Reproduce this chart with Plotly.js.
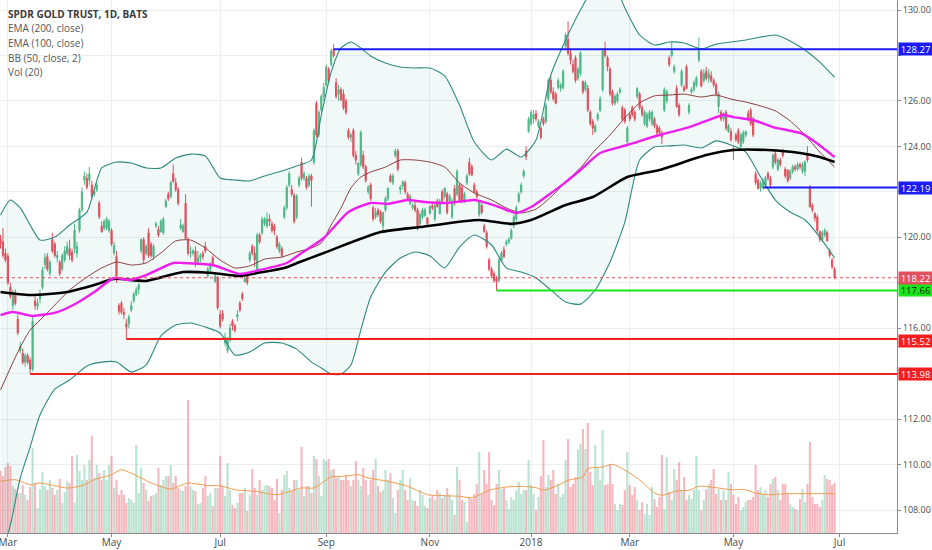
<!DOCTYPE html>
<html><head><meta charset="utf-8">
<script src="https://cdn.plot.ly/plotly-3.0.1.min.js"></script>
<style>html,body{margin:0;padding:0;background:#fff}#chart{width:932px;height:550px}</style>
</head><body><div id="chart"></div>
<script>
// ---------- DATA ----------
const firstDay = '2017-02-24';
const holidays = ['2017-04-14','2017-05-29','2017-07-04','2017-09-04','2017-11-23','2017-12-25','2018-01-01','2018-01-15','2018-02-19','2018-03-30','2018-05-28','2018-07-04'];

const openP = [
119.9,119.8,119.3,119.15,117.8,117.0,117.5,116.4,115.0,114.9,
114.5,114.8,114.6,114.2,117.2,116.95,117.3,117.8,118.8,119.15,
118.4,119.9,119.7,119.1,118.9,118.6,119.0,119.3,119.5,119.35,
119.5,119.3,120.3,121.2,122.5,122.6,122.5,122.3,121.9,122.1,
121.5,120.5,120.4,120.4,120.3,120.3,119.3,119.15,117.0,117.1,
116.7,116.2,116.2,116.8,117.2,117.5,117.7,119.4,119.9,119.3,
120.2,119.7,119.15,120.5,120.35,120.25,120.2,121.35,121.9,121.8,
122.8,122.4,122.1,120.4,120.25,121.5,119.9,119.3,119.3,119.4,
118.9,119.1,119.3,119.6,118.3,118.6,119.1,118.05,118.2,116.6,
116.65,115.35,115.0,115.5,116.3,116.1,116.5,117.1,117.5,118.05,
118.3,119.0,119.6,119.3,118.6,120.1,120.2,120.6,120.5,120.8,
120.6,120.5,120.0,119.4,119.5,120.9,121.3,122.3,122.1,121.85,
120.9,122.3,123.3,122.6,122.6,122.3,122.7,123.3,125.9,124.5,
125.6,126.2,126.7,127.4,127.6,128.27,126.8,126.3,126.5,126.3,
126.0,124.7,124.4,124.7,123.6,122.8,123.2,123.6,123.1,122.0,
122.3,121.3,120.9,121.2,121.1,120.5,121.2,121.7,122.7,122.4,
123.6,123.8,122.1,122.25,122.4,121.9,121.5,121.3,121.4,121.2,
120.6,120.9,120.95,120.85,121.05,121.4,120.8,121.6,121.05,122.0,
121.8,121.9,121.6,120.9,122.15,121.9,122.3,122.2,121.6,122.4,
123.3,123.1,122.3,122.0,121.0,121.4,120.5,120.2,119.0,118.6,
118.4,118.2,118.1,119.0,119.45,119.7,119.8,119.95,120.5,120.8,
121.6,122.0,122.7,123.8,124.65,125.0,125.2,125.45,124.9,124.8,
125.2,125.1,126.1,126.9,126.4,126.3,126.6,126.55,126.6,128.4,
128.7,128.1,127.6,127.9,127.0,127.2,126.85,126.5,126.55,125.5,
125.1,124.65,125.2,125.6,126.5,128.3,127.9,127.4,126.4,125.9,
126.0,126.4,125.7,125.6,124.2,125.4,125.7,125.5,126.2,126.3,
125.7,125.0,124.9,125.2,125.0,125.2,124.9,124.8,124.6,125.6,
126.0,127.9,128.0,127.3,126.55,125.8,126.7,126.6,127.5,125.5,
126.4,126.5,126.7,127.8,127.3,126.9,127.3,127.0,127.1,126.9,
126.7,125.75,125.5,125.2,125.5,124.65,124.65,123.9,124.5,124.7,
124.0,124.2,124.5,125.45,125.6,125.2,122.8,122.5,122.15,122.2,
122.3,122.8,122.6,123.1,123.7,123.0,123.4,123.8,123.0,122.95,
122.6,122.9,123.1,123.0,123.2,122.9,122.9,123.7,122.2,121.4,
121.05,120.9,120.25,119.9,120.1,120.2,119.4,119.0,118.6];

const highP = [
120.1,120.4,119.5,119.3,118.0,117.7,117.7,116.6,115.4,115.1,
114.9,114.9,114.7,116.5,117.4,117.3,117.7,118.7,119.3,119.3,
119.0,120.2,119.8,119.4,119.0,119.3,119.6,119.8,119.9,119.5,
120.6,119.8,121.3,122.2,122.9,122.8,123.1,122.5,122.2,122.4,
121.6,120.7,120.8,120.9,120.8,120.4,119.8,119.4,117.1,117.2,
116.9,116.4,116.6,117.2,117.6,117.8,118.0,119.95,120.0,119.7,
120.4,119.8,119.7,120.7,120.5,120.8,120.9,121.7,122.0,122.5,
123.2,122.6,122.2,120.8,120.6,121.9,120.0,119.6,119.5,119.6,
119.4,119.3,119.4,119.8,118.7,118.9,119.2,118.4,118.3,116.8,
116.8,115.8,115.6,116.2,116.4,116.2,116.8,117.2,117.6,118.3,
118.4,119.4,119.7,119.6,120.2,120.2,120.9,120.9,121.1,121.0,
120.7,120.6,120.1,119.8,119.6,121.4,122.3,122.9,122.3,121.95,
121.9,122.7,123.5,122.9,122.7,122.8,122.8,124.8,126.0,125.6,
126.3,126.8,127.6,127.5,128.3,128.5,127.0,126.7,126.6,126.5,
126.1,124.8,124.6,124.8,123.8,123.3,124.7,123.8,123.2,122.3,
122.4,121.4,121.3,121.3,121.2,121.1,121.8,122.2,122.8,122.8,
123.9,123.9,122.3,122.5,122.5,122.0,121.9,121.5,121.6,121.3,
121.1,121.3,121.3,120.9,121.4,121.5,121.5,121.7,121.7,122.1,
122.2,122.0,121.9,121.7,122.3,123.0,122.4,122.3,122.0,122.8,
123.5,123.2,122.4,122.1,121.6,121.5,120.6,120.3,119.1,118.7,
118.5,118.3,119.1,119.4,119.6,119.9,120.0,120.4,121.0,121.4,
122.0,122.4,123.0,124.0,125.3,125.6,125.6,125.6,125.2,124.9,
125.3,125.9,127.0,127.1,126.6,126.4,127.0,126.8,127.4,129.0,
129.5,128.3,127.8,128.0,127.5,128.2,126.9,126.9,126.7,125.6,
125.2,125.0,125.5,126.2,128.3,128.6,128.0,127.5,126.5,126.3,
126.4,126.6,125.8,125.7,124.9,125.5,125.8,125.6,126.6,126.4,
125.8,125.6,125.5,125.6,125.6,125.3,125.0,124.9,124.7,126.6,
126.5,128.0,128.6,127.6,126.7,125.9,127.4,126.7,127.6,125.9,
126.6,126.9,127.1,128.8,127.4,127.4,127.5,127.4,127.3,127.0,
126.8,126.4,125.6,125.5,125.6,125.0,124.8,124.0,124.6,124.8,
124.6,124.7,124.7,125.6,125.7,125.3,122.9,122.6,122.5,122.6,
122.7,122.9,122.7,123.7,123.8,123.5,123.5,123.9,123.1,123.0,
123.0,123.2,123.2,123.3,123.3,123.3,123.4,124.0,122.3,121.5,
121.1,121.0,120.3,120.3,120.4,120.3,119.5,119.1,118.7];

const lowP = [
119.5,119.1,118.9,117.9,117.3,116.8,117.0,115.7,114.9,114.4,
114.3,114.4,113.98,114.1,116.8,116.8,117.1,117.7,118.6,118.5,
118.3,119.3,119.1,118.9,118.3,118.5,118.9,119.2,119.0,118.9,
119.3,119.1,120.2,121.1,122.3,122.1,122.3,121.7,121.8,122.0,
120.8,120.2,120.3,120.3,120.2,119.6,119.2,118.0,116.6,116.6,
116.4,115.52,116.0,116.7,117.1,117.4,117.5,119.3,118.85,119.2,
119.1,119.1,119.0,120.4,120.0,120.2,120.1,121.3,121.6,121.7,
122.4,122.0,121.4,120.3,120.2,119.9,119.2,119.1,119.2,118.7,
118.8,118.9,119.0,119.3,118.2,118.4,118.7,118.0,116.8,116.0,
116.3,115.2,114.9,115.4,115.9,115.8,116.3,116.7,117.2,118.0,
117.9,118.9,119.2,118.7,118.5,119.7,120.1,120.5,120.4,120.5,
120.2,120.1,119.5,119.3,119.1,120.8,121.2,122.2,121.8,120.6,
120.8,122.2,122.5,122.5,122.1,122.2,121.35,123.2,124.4,124.4,
125.5,126.0,126.6,126.8,127.5,127.9,126.1,126.0,126.0,125.6,
125.4,124.3,124.2,123.5,123.2,122.7,123.1,123.0,122.4,121.9,
121.6,120.7,120.8,120.9,120.6,120.25,121.1,121.6,122.4,122.3,
123.5,122.9,121.9,122.1,121.9,121.6,121.4,121.2,121.1,120.3,
120.5,120.8,120.9,120.5,121.0,121.2,120.7,121.3,121.0,121.5,
121.7,121.0,121.5,120.8,121.4,121.8,121.5,121.5,121.5,122.3,
122.7,122.7,121.95,121.7,120.9,121.0,120.2,119.5,118.5,118.2,
118.0,117.66,118.0,118.9,119.1,119.6,119.7,119.9,120.4,120.7,
121.5,121.9,122.6,123.4,124.6,124.9,125.0,125.1,124.8,124.3,
124.9,125.0,126.0,126.3,126.0,125.85,126.5,126.4,126.5,128.3,
128.0,127.6,127.2,126.8,126.9,127.1,126.3,126.4,125.5,124.9,
124.5,124.6,125.1,125.5,126.4,127.9,127.3,126.2,125.8,125.8,
125.9,126.3,125.1,125.0,124.1,125.1,125.3,125.1,126.1,125.6,
125.3,124.9,124.8,125.1,124.9,124.8,124.5,124.5,124.1,125.5,
125.9,127.5,127.9,127.2,125.7,125.3,126.6,126.4,126.5,125.4,
126.3,126.4,126.6,127.7,126.6,126.8,126.9,126.8,126.8,126.6,
126.2,125.45,125.1,125.1,124.7,124.6,124.2,123.4,124.2,124.1,
123.9,124.1,124.4,125.1,124.9,124.4,122.3,122.1,122.0,122.1,
122.2,122.5,122.2,123.0,123.2,122.9,123.1,123.5,122.6,122.4,
122.5,122.8,122.9,122.9,123.0,122.8,122.7,123.3,121.3,121.1,
120.7,120.2,119.8,119.8,120.0,119.8,119.1,118.6,118.15];

const closeP = [
119.7,119.2,119.0,118.0,117.4,117.5,117.1,115.8,115.2,114.5,
114.8,114.5,114.2,116.3,117.0,117.1,117.5,118.55,119.1,118.6,
118.9,119.4,119.2,119.2,118.4,119.2,119.4,119.6,119.2,119.0,
120.3,119.6,121.2,122.0,122.7,122.2,122.8,121.8,122.0,122.3,
120.9,120.25,120.7,120.8,120.7,119.7,119.65,118.3,116.75,116.7,
116.6,116.05,116.5,117.0,117.5,117.7,117.9,119.9,119.0,119.6,
119.2,119.2,119.6,120.6,120.1,120.7,120.8,121.6,121.7,122.4,
122.45,122.1,121.5,120.55,120.5,119.95,119.3,119.35,119.4,118.9,
119.1,119.2,119.15,119.4,118.6,118.8,118.8,118.3,116.9,116.1,
116.4,115.6,115.5,116.0,116.1,115.9,116.6,116.8,117.3,118.2,
118.0,119.3,119.3,119.0,120.1,119.8,120.8,120.8,120.8,120.7,
120.3,120.3,119.6,119.7,119.2,121.3,122.2,122.8,121.9,120.7,
121.8,122.6,122.6,122.8,122.2,122.7,122.5,124.7,124.5,125.5,
126.2,126.6,127.5,126.9,128.2,128.0,126.2,126.5,126.05,125.7,
125.5,124.4,124.5,123.6,123.4,123.25,124.6,123.1,122.5,122.2,
121.7,120.8,121.1,121.0,120.7,121.1,121.7,122.15,122.45,122.7,
123.8,123.0,122.2,122.45,122.0,121.7,121.8,121.4,121.2,120.4,
121.0,121.2,121.2,120.6,121.35,121.3,121.4,121.35,121.6,121.6,
122.15,121.1,121.8,121.6,121.5,122.9,121.6,121.6,121.9,122.7,
122.8,122.75,122.0,121.8,121.55,121.1,120.25,119.6,118.6,118.3,
118.1,118.05,119.0,119.3,119.15,119.8,119.9,120.3,120.9,121.3,
121.9,122.3,122.9,123.55,125.2,125.5,125.4,125.2,125.1,124.4,
125.0,125.8,126.9,126.4,126.1,125.9,126.9,126.7,127.3,128.9,
128.1,127.8,127.3,126.9,127.4,128.1,126.4,126.8,125.6,125.0,
124.8,124.9,125.4,126.1,128.2,128.0,127.5,126.3,125.9,126.2,
126.3,126.5,125.2,125.1,124.8,125.2,125.4,125.2,126.55,125.7,
125.4,125.5,125.4,125.5,125.5,124.9,124.6,124.6,124.4,126.5,
126.4,127.6,128.2,127.5,125.75,125.4,127.3,126.45,126.55,125.8,
126.5,126.8,127.0,128.2,126.65,127.2,127.0,127.2,126.9,126.7,
126.3,126.3,125.2,125.45,124.8,124.9,124.3,123.8,124.3,124.2,
124.5,124.6,124.65,125.2,125.0,124.5,122.4,122.15,122.4,122.4,
122.6,122.6,122.3,123.6,123.3,123.4,123.2,123.6,122.7,122.5,
122.9,123.1,123.0,123.2,123.1,123.2,123.3,123.4,121.35,121.2,
120.85,120.3,119.9,120.2,120.3,119.85,119.2,118.7,118.22];

// volume, millions of shares
const volume = [
6.2,5.7,6.6,7.0,6.7,4.7,4.4,4.0,4.0,4.8,3.8,3.3,4.6,8.5,5.0,2.5,4.4,6.1,4.7,4.3,5.3,4.5,3.8,4.3,5.4,3.0,4.1,5.2,5.0,7.7,3.0,
7.8,6.2,5.3,6.8,5.3,7.3,9.7,5.5,6.8,6.0,5.3,6.3,5.3,6.8,7.7,4.5,5.3,3.8,4.3,3.8,3.0,3.5,3.3,3.0,8.8,4.0,6.5,5.0,4.3,3.2,3.7,3.8,4.0,6.5,4.8,5.3,5.7,5.7,6.8,5.0,5.7,4.5,4.3,4.2,4.7,
13.3,
4.7,4.3,4.2,2.9,3.0,4.5,5.7,3.7,4.0,2.7,4.5,4.5,7.7,4.7,3.7,7.0,4.3,2.8,2.5,3.0,
4.0,4.0,4.5,2.2,3.8,6.4,4.5,3.8,5.3,4.3,4.7,4.8,4.7,4.5,3.3,5.4,2.0,4.3,5.8,6.2,
4.5,4.2,5.3,5.3,4.3,8.6,3.7,4.7,4.7,4.0,7.7,7.4,5.7,3.7,7.4,7.2,7.4,6.3,6.4,5.5,
5.7,5.3,5.3,5.8,5.3,4.7,5.3,7.2,5.3,4.7,6.5,5.3,3.8,5.3,6.3,7.4,4.7,4.1,4.3,6.3,
5.3,6.0,3.5,2.0,4.3,5.3,6.3,4.3,3.3,5.5,3.3,3.2,2.7,4.3,3.8,2.7,2.5,3.5,3.8,3.3,
4.3,4.0,3.5,3.8,4.5,3.8,3.3,
1.8,6.6,5.3,3.3,3.1,1.1,3.6,3.4,3.9,4.9,8.1,3.9,6.3,4.9,8.1,3.3,2.8,4.9,6.3,4.4,
4.5,3.3,2.4,3.6,3.3,4.3,5.1,3.9,4.3,4.3,7.3,4.8,3.9,2.3,3.6,5.7,9.3,4.6,5.8,5.3,
6.3,3.9,4.9,3.6,3.9,7.3,9.4,4.6,4.9,5.6,8.3,8.9,10.4,8.4,11.0,6.1,4.8,8.8,6.6,5.3,
10.3,4.8,4.9,6.9,4.9,2.9,2.3,2.9,2.8,4.3,8.1,4.8,3.8,4.6,3.3,2.3,3.1,1.9,2.9,1.8,
4.6,3.4,2.6,3.6,7.8,2.4,7.6,4.1,3.3,6.4,5.3,7.1,4.3,5.6,3.3,3.8,3.4,4.3,7.7,4.3,
2.3,3.3,4.4,4.9,5.3,6.4,3.9,4.4,3.3,4.3,3.3,6.1,4.9,3.8,2.9,3.6,2.3,2.6,3.1,3.3,
3.3,3.6,6.8,4.3,4.6,3.9,4.3,3.6,4.9,5.4,5.6,4.3,3.3,4.9,4.9,3.9,2.9,2.6,2.4,2.3,
3.4,4.4,3.1,4.9,9.1,3.6,2.9,2.9,2.6,3.3,5.8,5.4,5.3,4.8,
5.0];

// Vol (20) moving average, read at bar positions
const volMaIdx = [0,6,12,16,22,27,33,38,45,49,57,61,69,76,84,89,95,103,112,122,127,134,139,145,149,157,165,173,180,186,191,198,205,211,217,220,225,230,236,238,244,248,255,260,265,268,274,279,283,290,296,302,306,311,319,328,338];
const volMaVal = [5.17,5.33,4.83,5.0,4.73,4.5,4.73,5.33,5.83,6.33,5.5,5.0,4.4,5.0,4.73,4.73,4.33,4.17,3.83,4.5,4.5,5.6,5.67,5.83,5.5,5.17,4.67,3.83,3.73,3.67,3.53,4.27,4.6,4.67,4.53,4.27,4.67,5.27,5.6,6.43,6.6,6.87,6.0,5.1,4.0,3.77,4.2,4.27,4.67,4.53,4.33,4.33,4.0,3.83,3.93,3.93,3.93];

// EMA 200 / EMA 100 read at bar positions
const ema200Idx = [0,12,27,38,46,59,74,86,97,105,115,121,131,154,170,194,207,215,229,240,254,267,286,297,311,324,332,338];
const ema200Val = [117.59,117.46,117.59,117.90,118.17,118.08,118.47,118.43,118.30,118.45,118.65,118.90,119.31,120.23,120.45,120.76,120.59,120.76,121.42,121.77,122.65,122.96,123.62,123.84,123.84,123.71,123.53,123.31];
const ema100Idx = [0,5,13,23,31,38,46,52,59,70,74,86,97,105,116,122,131,141,150,157,165,172,181,192,197,203,209,215,222,228,235,243,254,267,278,286,293,297,305,313,324,329,338];
const ema100Val = [116.58,116.71,116.54,116.71,117.11,117.59,118.21,118.12,118.34,118.87,118.87,118.78,118.39,118.56,118.87,119.31,119.97,121.11,121.51,121.47,121.64,121.55,121.51,121.64,121.51,121.29,121.07,121.33,121.86,122.34,122.96,123.71,124.06,124.50,124.81,125.12,125.38,125.29,125.16,124.85,124.59,124.28,123.53];

// Bollinger Bands (50, 2) read at bar positions
const bbIdx = [0,4,8,12,16,22,28,35,41,47,53,59,65,71,77,83,89,95,101,107,114,120,126,130,134,138,142,146,150,156,162,168,174,180,186,192,199,205,211,217,223,229,235,241,247,253,259,265,271,277,284,290,296,302,308,314,320,326,332,338];
const bbUpper = [120.98,121.64,121.29,120.54,119.88,120.01,120.54,121.11,123.05,123.31,123.27,123.05,123.05,123.49,123.66,123.58,122.61,122.52,122.48,122.70,122.92,123.14,123.40,125.38,127.27,128.33,128.59,128.33,127.98,127.67,127.49,127.45,127.45,127.10,125.82,124.19,123.40,123.88,123.53,124.28,127.14,128.68,130.00,131.10,131.54,130.09,128.90,128.46,128.59,128.55,128.28,128.50,128.59,128.68,128.81,128.90,128.64,128.24,127.71,127.05];
const bbLower = [105.80,107.34,109.41,110.77,112.18,113.32,113.72,114.34,114.51,114.51,114.07,114.38,115.66,116.14,116.23,116.05,115.79,114.82,114.95,115.35,115.35,115.08,114.51,114.25,113.98,113.98,114.38,115.92,117.37,118.47,119.09,119.35,119.18,118.65,119.57,120.10,119.66,118.65,118.47,118.21,117.68,117.15,117.06,117.68,118.91,120.67,123.40,123.97,124.02,124.06,123.93,124.24,124.06,123.75,122.65,121.64,121.11,120.76,120.01,119.09];
const bbBasis = [113.28,114.25,115.17,115.92,116.36,117.02,117.68,118.25,118.65,118.91,118.78,118.87,119.31,119.84,119.88,119.53,119.00,118.65,118.74,119.04,119.13,119.35,119.53,119.75,120.54,121.29,122.17,122.65,122.87,123.09,123.40,123.40,123.31,123.09,122.39,121.95,121.64,121.29,121.07,121.24,121.77,122.43,123.05,123.84,124.50,125.25,125.91,126.22,126.26,126.30,126.17,126.26,126.08,125.95,125.78,125.56,125.12,124.50,123.75,123.09];

// Horizontal levels
const levelValues = [128.27, 122.19, 117.66, 115.52, 113.98];
const levelStartIdx = [135, 309, 201, 51, 12];
const levelColors = ['#1b1bf5', '#1b1bf5', '#19e619', '#f51d1d', '#f51d1d'];
const levelTextColors = ['#ffffff', '#ffffff', '#1a1a1a', '#ffffff', '#ffffff'];
const lastPrice = 118.22;

// Axis labels (labels hidden behind the level boxes are left blank)
const xTickDates = ['2017-03-01','2017-05-01','2017-07-03','2017-09-01','2017-11-01','2018-01-02','2018-03-01','2018-05-01','2018-07-02'];
const xTickText = ['Mar','May','Jul','Sep','Nov','2018','Mar','May','Jul'];
const yTicks = [108,110,112,114,116,118,120,122,124,126,128,130];
const yTickText = ['108.00','110.00','112.00','','116.00','','120.00','','124.00','126.00','','130.00'];
const legendLines = ['SPDR GOLD TRUST, 1D, BATS','EMA (200, close)','EMA (100, close)','BB (50, close, 2)','Vol (20)'];

// ---------- BUILD ----------
function tradingDays(start, n, hol) {
  const out = []; const hs = new Set(hol);
  const d = new Date(start + 'T00:00:00Z');
  while (out.length < n) {
    const wd = d.getUTCDay(); const s = d.toISOString().slice(0, 10);
    if (wd !== 0 && wd !== 6 && !hs.has(s)) out.push(s);
    d.setUTCDate(d.getUTCDate() + 1);
  }
  return out;
}
const dates = tradingDays(firstDay, closeP.length, holidays);
const pick = idx => idx.map(i => dates[i]);
const xStart = '2017-02-23 19:00', xEnd = '2018-08-03 07:00';

const upC = '#53b987', dnC = '#eb4d5c';
const volColors = closeP.map((c, i) => c >= openP[i] ? 'rgba(83,185,140,0.40)' : 'rgba(238,80,100,0.42)');
const font = 'Open Sans, Liberation Sans, Arial, sans-serif';

const traces = [
  {type:'bar', x:dates, y:volume, xaxis:'x', yaxis:'y', marker:{color:volColors, line:{width:0}}, hoverinfo:'skip'},
  {type:'scatter', mode:'lines', x:pick(volMaIdx), y:volMaVal, xaxis:'x', yaxis:'y', line:{color:'#f29a4a', width:1, shape:'spline', smoothing:0.6}, hoverinfo:'skip'},
  {type:'scatter', mode:'lines', x:pick(bbIdx), y:bbUpper, yaxis:'y2', line:{color:'#2f8a7e', width:1.1, shape:'spline', smoothing:0.6}, hoverinfo:'skip'},
  {type:'scatter', mode:'lines', x:pick(bbIdx), y:bbLower, yaxis:'y2', fill:'tonexty', fillcolor:'rgba(0,150,136,0.06)', line:{color:'#2f8a7e', width:1.1, shape:'spline', smoothing:0.6}, hoverinfo:'skip'},
  {type:'scatter', mode:'lines', x:pick(bbIdx), y:bbBasis, yaxis:'y2', line:{color:'#8c3b3b', width:1, shape:'spline', smoothing:0.6}, hoverinfo:'skip'},
  {type:'candlestick', x:dates, open:openP, high:highP, low:lowP, close:closeP, yaxis:'y2',
   increasing:{line:{color:upC, width:1}, fillcolor:upC}, decreasing:{line:{color:dnC, width:1}, fillcolor:dnC},
   whiskerwidth:0, hoverinfo:'skip'},
  {type:'scatter', mode:'lines', x:pick(ema200Idx), y:ema200Val, yaxis:'y2', line:{color:'#000000', width:2.6, shape:'spline', smoothing:0.6}, hoverinfo:'skip'},
  {type:'scatter', mode:'lines', x:pick(ema100Idx), y:ema100Val, yaxis:'y2', line:{color:'#ee1fee', width:2.4, shape:'spline', smoothing:0.6}, hoverinfo:'skip'}
];

const shapes = levelValues.map((v, k) => ({
  type:'line', xref:'x', yref:'y2', x0:dates[levelStartIdx[k]], x1:xEnd, y0:v, y1:v,
  line:{color:levelColors[k], width:2}
}));
shapes.push({type:'line', xref:'paper', yref:'y2', x0:0, x1:1, y0:lastPrice, y1:lastPrice,
  line:{color:'#e0505c', width:1, dash:'dot'}});

// small vertical nudge only for the 115.52 box so it does not touch the 116.00 label
const boxShift = [0, 0, 0, -2, 0];
const annotations = levelValues.map((v, k) => ({
  xref:'paper', yref:'y2', x:1, y:v, xanchor:'left', yanchor:'middle', xshift:1, yshift:boxShift[k],
  text:v.toFixed(2), showarrow:false, bgcolor:levelColors[k], borderpad:1, width:31, height:10,
  font:{family:font, size:9.5, color:levelTextColors[k]}
}));
annotations.push({xref:'paper', yref:'y2', x:1, y:lastPrice, xanchor:'left', yanchor:'middle', xshift:1,
  text:lastPrice.toFixed(2), showarrow:false, bgcolor:'#e2505e', borderpad:1, width:31, height:10,
  font:{family:font, size:9.5, color:'#ffffff'}});
legendLines.forEach((t, k) => annotations.push({
  xref:'paper', yref:'paper', x:6/897, y:1 - (14 + k*14.5)/533, xanchor:'left', yanchor:'middle',
  text: k === 0 ? '<b>' + t + '</b>' : t, showarrow:false,
  font:{family:font, size:10, color: k === 0 ? '#3a3a3a' : '#555555'}
}));

const layout = {
  width:932, height:550,
  margin:{l:0, r:35, t:0, b:17, pad:0},
  paper_bgcolor:'#ffffff', plot_bgcolor:'#ffffff',
  showlegend:false, bargap:0.15, hovermode:false,
  xaxis:{type:'date', range:[xStart, xEnd],
    rangebreaks:[{bounds:['sat','mon']}, {values:holidays}],
    tickmode:'array', tickvals:xTickDates, ticktext:xTickText,
    showgrid:true, gridcolor:'#eceef2', gridwidth:1,
    showline:true, linecolor:'#8a8a8a', linewidth:1,
    ticks:'outside', ticklen:3, tickcolor:'#8a8a8a',
    ticklabeloverflow:'allow', ticklabelstandoff:-3,
    tickfont:{family:font, size:10, color:'#4a4a4a'},
    zeroline:false, rangeslider:{visible:false}, fixedrange:true},
  yaxis:{range:[0, 53.3], visible:false, showgrid:false, zeroline:false, fixedrange:true},
  yaxis2:{overlaying:'y', side:'right', range:[106.99, 130.44],
    tickmode:'array', tickvals:yTicks, ticktext:yTickText,
    showgrid:true, gridcolor:'#eceef2', gridwidth:1,
    showline:true, linecolor:'#8a8a8a', linewidth:1,
    ticks:'outside', ticklen:3, tickcolor:'#8a8a8a',
    tickfont:{family:font, size:9, color:'#4a4a4a'},
    zeroline:false, fixedrange:true},
  shapes:shapes, annotations:annotations
};

Plotly.newPlot('chart', traces, layout, {displayModeBar:false, staticPlot:true});
</script>
</body></html>
